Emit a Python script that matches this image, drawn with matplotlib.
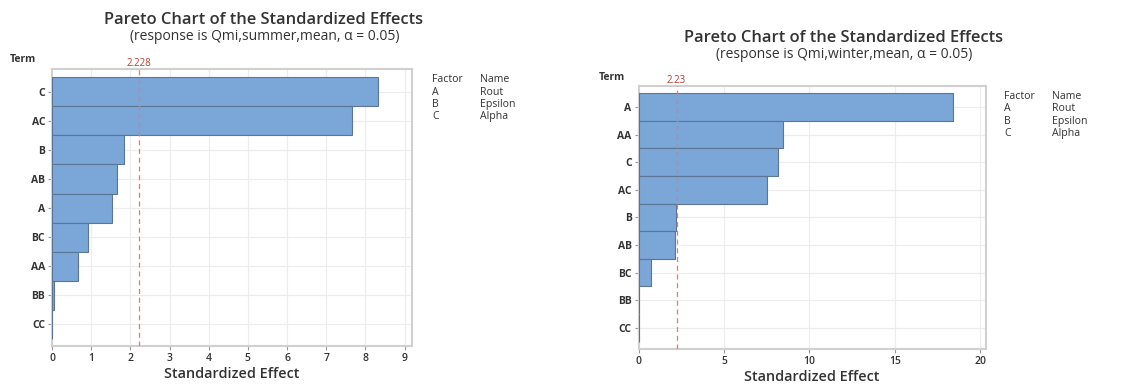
import matplotlib
matplotlib.use("Agg")
import matplotlib.pyplot as plt

plt.rcParams['font.family'] = ['Open Sans', 'DejaVu Sans']

# Left chart (summer)
terms_summer = ["C", "AC", "B", "AB", "A", "BC", "AA", "BB", "CC"]
effects_summer = [8.31, 7.65, 1.85, 1.67, 1.54, 0.91, 0.67, 0.05, 0.0]
crit_summer = 2.228
crit_summer_label = "2.228"
xticks_summer = [0, 1, 2, 3, 4, 5, 6, 7, 8, 9]

# Right chart (winter)
terms_winter = ["A", "AA", "C", "AC", "B", "AB", "BC", "BB", "CC"]
effects_winter = [18.43, 8.49, 8.17, 7.55, 2.17, 2.11, 0.74, 0.05, 0.0]
crit_winter = 2.23
crit_winter_label = "2.23"
xticks_winter = [0, 5, 10, 15, 20]

factors = ["A", "B", "C"]
names = ["Rout", "Epsilon", "Alpha"]

title = "Pareto Chart of the Standardized Effects"
sub_summer = "(response is Qmi,summer,mean, α = 0.05)"
sub_winter = "(response is Qmi,winter,mean, α = 0.05)"

BAR = "#7ba6d8"
EDGE = "#5d7594"
RED = "#ef7575"
REDTXT = "#c0392b"
TXT = "#333333"
FRAME = "#d0d0d0"

W, H = 1133, 385
fig = plt.figure(figsize=(W / 100, H / 100), dpi=100)


def px_rect(l, t, r, b):
    return [l / W, 1 - b / H, (r - l) / W, (b - t) / H]


def draw(ax, terms, effects, crit, crit_label, xticks, xmax, ylim):
    idx = list(range(len(terms)))
    ax.barh(idx, effects, height=1.0, color=BAR, edgecolor=EDGE, linewidth=0.8, zorder=3)
    ax.set_xlim(0, xmax)
    ax.set_ylim(*ylim)
    ax.set_yticks(idx)
    ax.set_yticklabels(terms, fontsize=7.5, fontweight='bold', color=TXT)
    ax.set_xticks(xticks)
    ax.set_xticklabels([str(v) for v in xticks], fontsize=7.5, fontweight='semibold', color=TXT)
    ax.grid(True, color="#ececec", linewidth=0.8, zorder=0)
    ax.set_axisbelow(True)
    for s in ax.spines.values():
        s.set_color(FRAME)
        s.set_linewidth(1.5)
    ax.tick_params(axis='both', length=3, color="#999999", pad=2)
    ax.axvline(crit, color=RED, linestyle=(0, (4, 3)), linewidth=0.9, zorder=4)
    ax.text(crit, ylim[1], crit_label, transform=ax.transData, ha='center', va='bottom',
            fontsize=7, color=REDTXT)
    ax.set_xlabel("Standardized Effect", fontsize=10.4, fontweight='semibold', color=TXT, labelpad=2)


ax1 = fig.add_axes(px_rect(52, 69, 412, 346))
draw(ax1, terms_summer, effects_summer, crit_summer, crit_summer_label, xticks_summer, 9.19,
     (8.745, -0.785))
ax2 = fig.add_axes(px_rect(638.5, 86, 985.7, 349.3))
draw(ax2, terms_winter, effects_winter, crit_winter, crit_winter_label, xticks_winter, 20.33,
     (8.78, -0.765))

# titles
fig.text(264 / W, 1 - 20 / H, title, ha='center', va='center', fontsize=11.9, fontweight='semibold', color=TXT)
fig.text(265 / W, 1 - 36 / H, sub_summer, ha='center', va='center', fontsize=10, color=TXT)
fig.text(844 / W, 1 - 38 / H, title, ha='center', va='center', fontsize=11.9, fontweight='semibold', color=TXT)
fig.text(844 / W, 1 - 54 / H, sub_winter, ha='center', va='center', fontsize=10, color=TXT)

# Term labels
fig.text(23 / W, 1 - 60 / H, "Term", ha='center', va='center', fontsize=7.5, fontweight='bold', color=TXT)
fig.text(612 / W, 1 - 77 / H, "Term", ha='center', va='center', fontsize=7.5, fontweight='bold', color=TXT)

# Factor legends
def legend(x1, x2, y0):
    fig.text(x1 / W, 1 - y0 / H, "Factor", ha='left', va='center', fontsize=7.6, color=TXT)
    fig.text(x2 / W, 1 - y0 / H, "Name", ha='left', va='center', fontsize=7.6, color=TXT)
    for i, (f, n) in enumerate(zip(factors, names)):
        y = y0 + 12.3 * (i + 1)
        fig.text(x1 / W, 1 - y / H, f, ha='left', va='center', fontsize=7.6, color=TXT)
        fig.text(x2 / W, 1 - y / H, n, ha='left', va='center', fontsize=7.6, color=TXT)


legend(432, 480, 80)
legend(1004, 1052, 96.5)

fig.savefig("out.png", dpi=100)
